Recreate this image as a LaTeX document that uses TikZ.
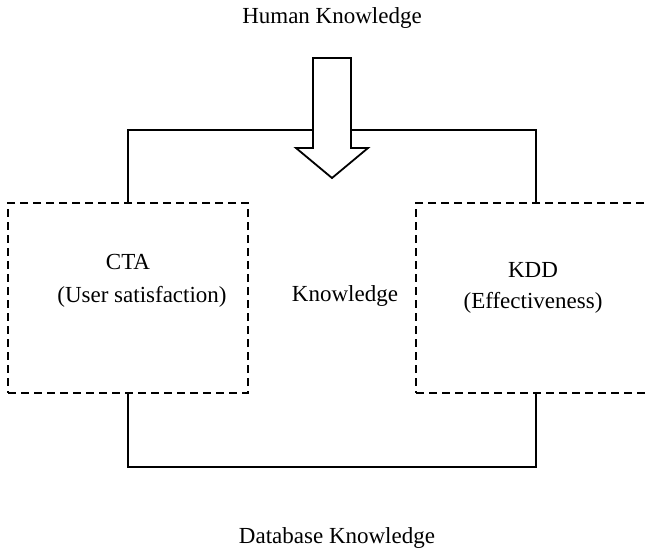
\documentclass[tikz,border=0pt]{standalone}
\usepackage{fontspec}
\setmainfont{Liberation Serif}
\begin{document}
\begin{tikzpicture}[x=1pt,y=-1pt,
  every node/.style={font=\fontsize{23}{27}\selectfont, inner sep=0pt},
  framebox/.style={draw, line width=1.6pt, dash pattern=on 8pt off 5pt,
    minimum width=240pt, minimum height=190pt},
  link/.style={draw, line width=1.8pt},
  blockarrow/.style={draw, line width=1.8pt, fill=white, line join=miter}]
\useasboundingbox (0,0) rectangle (648,557);
\clip (0,0) rectangle (648,557);

% titles
\node (human) at (332,18) {Human Knowledge};
\node (db) at (337,538) {Database Knowledge};

% the two framed areas
\node[framebox] (cta) at (128,298) {};
\node[framebox] (kdd) at (536,298) {};
\node (ctaname) at (128,262) {CTA};
\node (ctasub) at (142,297) {(User satisfaction)};
\node (kddname) at (533,270) {KDD};
\node (kddsub) at (533,303) {(Effectiveness)};
\node (know) at (345,296) {Knowledge};

% connecting lines above and below
\coordinate (top) at (0,130);
\coordinate (bot) at (0,467);
\draw[link] (cta.north) -- (cta.north |- top) -- (kdd.north |- top) -- (kdd.north);
\draw[link] (cta.south) -- (cta.south |- bot) -- (kdd.south |- bot) -- (kdd.south);

% block arrow pointing down into the loop
\draw[blockarrow] (313,58) -- (351,58) -- (351,148) -- (368,148) -- (332,178)
  -- (296,148) -- (313,148) -- cycle;
\end{tikzpicture}
\end{document}
